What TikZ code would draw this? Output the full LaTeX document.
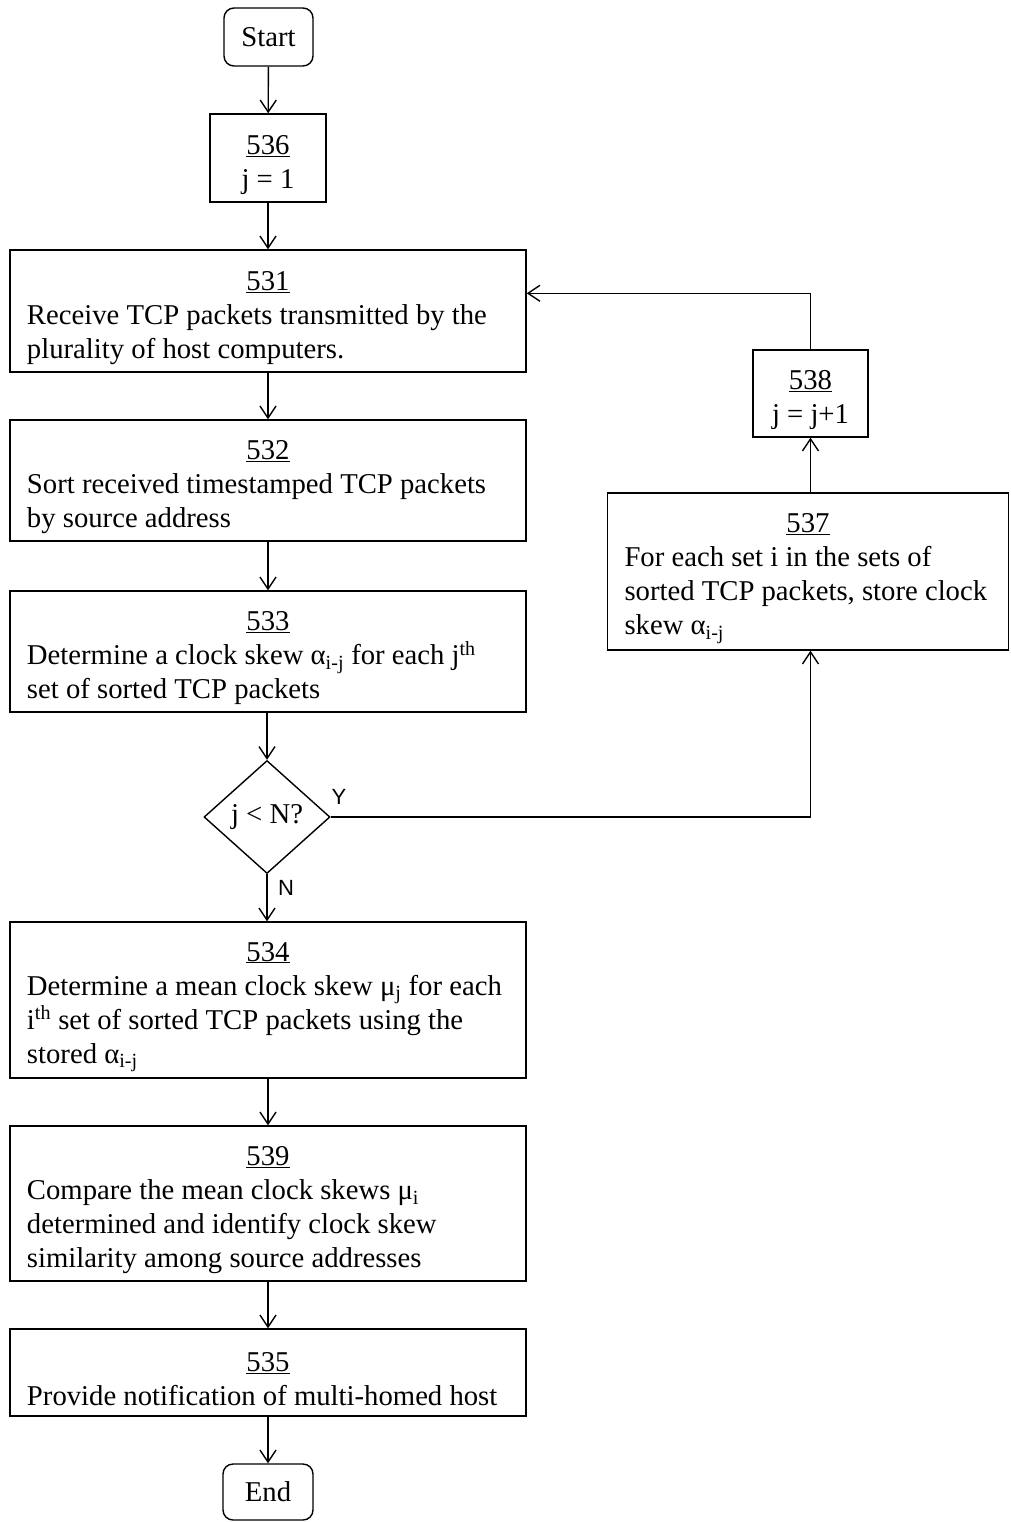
\documentclass[tikz,border=0pt]{standalone}
\usepackage{fontspec}
\setmainfont{Liberation Serif}
\newfontfamily\labelfont{Liberation Sans}
\usetikzlibrary{arrows.meta,shapes.geometric}
\setlength\parindent{0pt}
\newcommand\stepnum[2]{\makebox[#1]{\rule{0pt}{33pt}\underline{#2}}}
\begin{document}
\begin{tikzpicture}[x=1pt,y=-1pt,line width=1.4pt,
  mainfont/.style={font=\fontsize{28.7}{34}\selectfont},
  arr/.style={-{Straight Barb[length=12pt,width=16pt,line width=1.4pt]}},
  procbox/.style={draw, rectangle, mainfont, align=left, inner xsep=17pt, inner ysep=0pt, minimum width=516pt},
  sidebox/.style={draw, rectangle, mainfont, align=left, inner xsep=17pt, inner ysep=0pt, minimum width=401pt},
  smallbox/.style={draw, rectangle, mainfont, align=center, inner sep=0pt},
  term/.style={draw, rectangle, rounded corners=10pt, mainfont, inner sep=0pt},
  decision/.style={draw, diamond, shape aspect=1.115, mainfont, inner sep=0pt, minimum width=126pt, minimum height=113pt},
  yn/.style={font=\labelfont\fontsize{22}{24}\selectfont, inner sep=0pt}
]
\fill[white] (0,0) rectangle (1010,1522);
\useasboundingbox (0,0) rectangle (1010,1522);

\node[term, minimum width=89pt, minimum height=58pt] (start) at (268.5,37) {Start};
\node[smallbox, minimum width=116pt, minimum height=88pt] (n536) at (268,158) {\stepnum{60pt}{536}\\ j = 1};

\node[procbox, minimum height=122pt] (n531) at (268,311)
  {\stepnum{482pt}{531}\\ Receive TCP packets transmitted by the\\ plurality of host computers.};
\node[procbox, minimum height=121pt] (n532) at (268,480.5)
  {\stepnum{482pt}{532}\\ Sort received timestamped TCP packets\\ by source address};
\node[procbox, minimum height=121pt] (n533) at (268,651.5)
  {\stepnum{482pt}{533}\\ Determine a clock skew α\textsubscript{i-j} for each j\textsuperscript{th}\\ set of sorted TCP packets};
\node[decision] (dia) at (267,817) {j < N?};
\node[procbox, minimum height=156pt] (n534) at (268,1000)
  {\stepnum{482pt}{534}\\ Determine a mean clock skew μ\textsubscript{j} for each\\ i\textsuperscript{th} set of sorted TCP packets using the\\ stored α\textsubscript{i-j}};
\node[procbox, minimum height=155pt] (n539) at (268,1203.5)
  {\stepnum{482pt}{539}\\ Compare the mean clock skews μ\textsubscript{i}\\ determined and identify clock skew\\ similarity among source addresses};
\node[procbox, minimum height=87pt] (n535) at (268,1372.5)
  {\stepnum{482pt}{535}\\ Provide notification of multi-homed host};
\node[term, minimum width=90pt, minimum height=56pt] (end) at (268,1492) {End};

\node[smallbox, minimum width=115pt, minimum height=87pt] (n538) at (810.5,393.5) {\stepnum{60pt}{538}\\ j = j+1};
\node[sidebox, minimum height=157pt] (n537) at (808,571.5)
  {\stepnum{367pt}{537}\\ For each set i in the sets of\\ sorted TCP packets, store clock\\ skew α\textsubscript{i-j}};

\draw[arr] (start) -- (n536);
\draw[arr] (n536) -- (n531);
\draw[arr] (n531) -- (n532);
\draw[arr] (n532) -- (n533);
\draw[arr] (n533.south -| dia.north) -- (dia.north);
\draw[arr] (dia.south) -- (dia.south |- n534.north);
\draw[arr] (n534) -- (n539);
\draw[arr] (n539) -- (n535);
\draw[arr] (n535) -- (end);

\draw[arr] (dia.east) -| (n538.south |- n537.south);
\draw[arr] (n538.south |- n537.north) -- (n538.south);
\draw[arr] (n538.north) |- ([yshift=-44pt]n531.north east);

\node[yn] (ylab) at (339,797) {Y};
\node[yn] (nlab) at (286,888) {N};
\end{tikzpicture}
\end{document}
